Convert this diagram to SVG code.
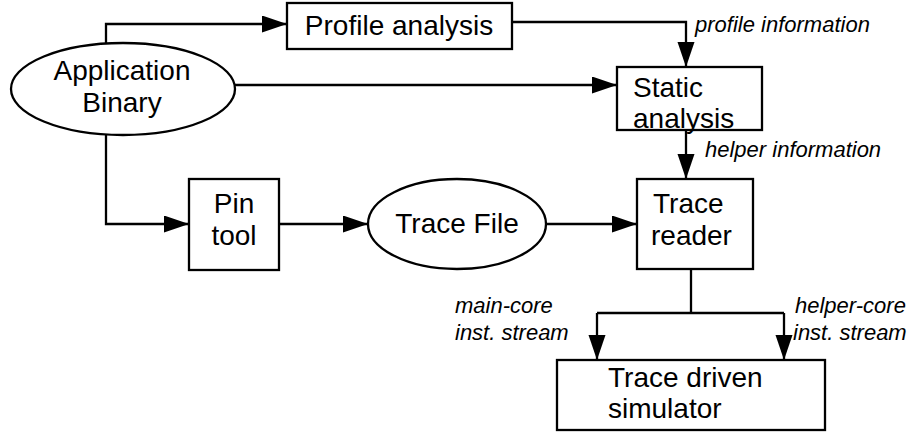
<svg xmlns="http://www.w3.org/2000/svg" width="911" height="432" viewBox="0 0 911 432">
<style>
.box{fill:#fff;stroke:#000;stroke-width:2.3}
.t{font-family:"Liberation Sans",Arial,sans-serif;font-size:28px;fill:#000}
.lbl{font-family:"Liberation Sans",Arial,sans-serif;font-size:22px;font-style:italic;fill:#000}
.c{fill:none;stroke:#000;stroke-width:2.3}
</style>
<defs>
<marker id="ah" markerUnits="userSpaceOnUse" markerWidth="26" markerHeight="18" refX="25" refY="8.5" orient="auto">
<path d="M0,0 L25,8.5 L0,17 z" fill="#000"/>
</marker>
</defs>
<rect width="911" height="432" fill="#fff"/>
<g id="connectors">
<path class="c" d="M106,43 V24 H287" marker-end="url(#ah)"/>
<path class="c" d="M234,85 H617" marker-end="url(#ah)"/>
<path class="c" d="M512,22 H686 V67" marker-end="url(#ah)"/>
<path class="c" d="M686,130 V179" marker-end="url(#ah)"/>
<path class="c" d="M106,135 V224 H189" marker-end="url(#ah)"/>
<path class="c" d="M279,224 H368" marker-end="url(#ah)"/>
<path class="c" d="M547,224 H637" marker-end="url(#ah)"/>
<path class="c" d="M691,269 V313"/>
<path class="c" d="M597,313 H784"/>
<path class="c" d="M597,313 V360" marker-end="url(#ah)"/>
<path class="c" d="M784,313 V360" marker-end="url(#ah)"/>
<text class="lbl" x="695" y="32">profile information</text>
<text class="lbl" x="705" y="157">helper information</text>
<text class="lbl" x="455" y="313">main-core</text>
<text class="lbl" x="455" y="340">inst. stream</text>
<text class="lbl" x="795" y="313">helper-core</text>
<text class="lbl" x="793" y="340">inst. stream</text>
</g>
<g id="app-binary">
<ellipse class="box" cx="123" cy="89" rx="112" ry="46"/>
<text class="t" x="122" y="80" text-anchor="middle">Application</text>
<text class="t" x="122" y="112" text-anchor="middle">Binary</text>
</g>
<g id="profile-analysis">
<rect class="box" x="287" y="3" width="225" height="46"/>
<text class="t" x="399" y="35" text-anchor="middle">Profile analysis</text>
</g>
<g id="static-analysis">
<rect class="box" x="617" y="67" width="145" height="63"/>
<text class="t" x="633" y="97">Static</text>
<text class="t" x="633" y="128">analysis</text>
</g>
<g id="pin-tool">
<rect class="box" x="189" y="179" width="90" height="91"/>
<text class="t" x="234" y="213" text-anchor="middle">Pin</text>
<text class="t" x="234" y="245" text-anchor="middle">tool</text>
</g>
<g id="trace-file">
<ellipse class="box" cx="457" cy="224" rx="89" ry="45"/>
<text class="t" x="457" y="233" text-anchor="middle">Trace File</text>
</g>
<g id="trace-reader">
<rect class="box" x="637" y="179" width="116" height="90"/>
<text class="t" x="653" y="213">Trace</text>
<text class="t" x="651" y="245">reader</text>
</g>
<g id="simulator">
<rect class="box" x="557" y="360" width="268" height="70"/>
<text class="t" x="608" y="387">Trace driven</text>
<text class="t" x="608" y="418">simulator</text>
</g>
</svg>
